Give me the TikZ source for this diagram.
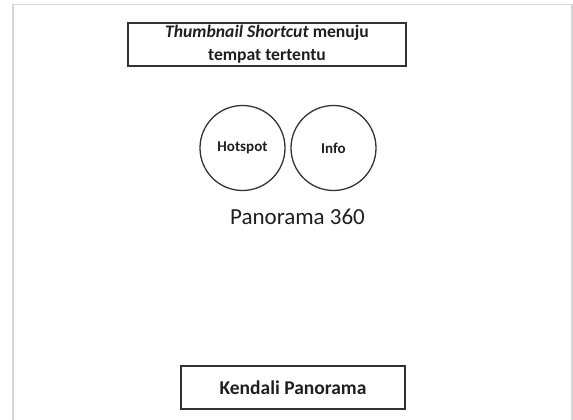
\documentclass[tikz,border=0pt]{standalone}
\usepackage{fontspec}
\setmainfont{Carlito}
\begin{document}
\begin{tikzpicture}[x=1pt,y=-1pt,
  panel/.style={draw=black!80, line width=1.6pt, inner sep=0pt},
  bubble/.style={draw=black!80, line width=1.3pt, circle, minimum size=85pt, inner sep=0pt, font=\fontsize{15}{18}\selectfont\bfseries},
  label/.style={text=black!88}]
  \useasboundingbox (0,0) rectangle (573,420);
  % page frame (open at the bottom)
  \draw[draw=black!16, line width=1.4pt] (13,420) -- (13,4.5) -- (572,4.5) -- (572,420);
  % top title box
  \node[panel, label, minimum width=278pt, minimum height=43pt, align=center,
        font=\fontsize{17.6}{23}\selectfont\bfseries] (title) at (267,44.5)
        {\textit{Thumbnail Shortcut} menuju\\tempat tertentu};
  % hotspot and info buttons
  \node[bubble, label] (hotspot) at (242.5,148) {Hotspot};
  \node[bubble, label] (info) at (333.5,148) {Info};
  % panorama caption
  \node[label, font=\fontsize{23}{27}\selectfont] (pano) at (297.5,217) {Panorama 360};
  % bottom control box
  \node[panel, label, minimum width=224pt, minimum height=43pt,
        font=\fontsize{19.5}{23}\selectfont\bfseries] (ctrl) at (293,387.5) {Kendali Panorama};
\end{tikzpicture}
\end{document}
